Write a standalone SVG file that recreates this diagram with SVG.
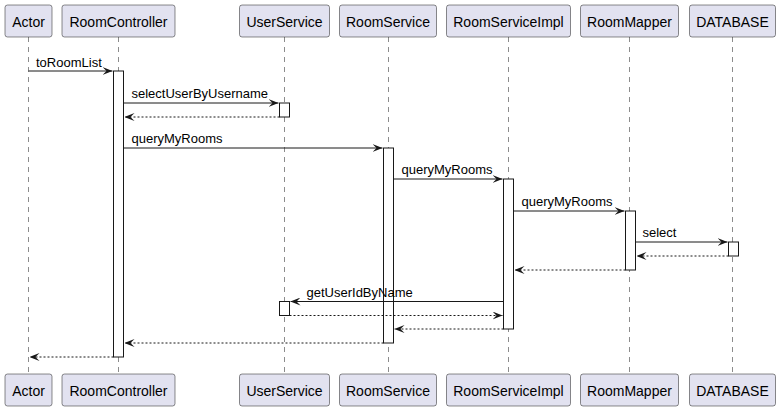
<svg xmlns="http://www.w3.org/2000/svg" width="781" height="412" viewBox="0 0 781 412">
<defs>
<style>
.box{fill:#E2E2F0;stroke:#181818;stroke-width:0.5}
.life{stroke:#181818;stroke-width:0.5;stroke-dasharray:5,5;fill:none}
.act{fill:#FFFFFF;stroke:#181818;stroke-width:1}
.pn{font-family:"Liberation Sans",Arial,sans-serif;font-size:14px;fill:#000;text-anchor:middle}
.msg{stroke:#181818;stroke-width:1;fill:none;marker-end:url(#ah)}
.ret{stroke:#181818;stroke-width:1;fill:none;stroke-dasharray:2,2;marker-end:url(#ah)}
.ml{font-family:"Liberation Sans",Arial,sans-serif;font-size:13px;fill:#000}
</style>
<marker id="ah" viewBox="0 0 10 8" refX="10" refY="4" markerWidth="10" markerHeight="8" markerUnits="userSpaceOnUse" orient="auto">
<path d="M0,0 L10,4 L0,8 L4,4 Z" fill="#181818"/>
</marker>
</defs>
<rect width="781" height="412" fill="#FFFFFF"/>

<g id="actor">
<line class="life" x1="28.5" y1="37" x2="28.5" y2="374"/>
<rect class="box" x="5" y="5" width="47" height="32" rx="2.5"/>
<text class="pn" x="28.5" y="26.5">Actor</text>
<rect class="box" x="5" y="374" width="47" height="32" rx="2.5"/>
<text class="pn" x="28.5" y="395.5">Actor</text>
</g>

<g id="roomcontroller">
<line class="life" x1="118.5" y1="37" x2="118.5" y2="374"/>
<rect class="box" x="62" y="5" width="113" height="32" rx="2.5"/>
<text class="pn" x="118.5" y="26.5">RoomController</text>
<rect class="box" x="62" y="374" width="113" height="32" rx="2.5"/>
<text class="pn" x="118.5" y="395.5">RoomController</text>
<rect class="act" x="113.5" y="71" width="10" height="286"/>
</g>

<g id="userservice">
<line class="life" x1="284.5" y1="37" x2="284.5" y2="374"/>
<rect class="box" x="239.5" y="5" width="90" height="32" rx="2.5"/>
<text class="pn" x="284.5" y="26.5">UserService</text>
<rect class="box" x="239.5" y="374" width="90" height="32" rx="2.5"/>
<text class="pn" x="284.5" y="395.5">UserService</text>
<rect class="act" x="279.5" y="103" width="10" height="14"/>
<rect class="act" x="279.5" y="301.5" width="10" height="14"/>
</g>

<g id="roomservice">
<line class="life" x1="388.5" y1="37" x2="388.5" y2="374"/>
<rect class="box" x="339.5" y="5" width="97" height="32" rx="2.5"/>
<text class="pn" x="388" y="26.5">RoomService</text>
<rect class="box" x="339.5" y="374" width="97" height="32" rx="2.5"/>
<text class="pn" x="388" y="395.5">RoomService</text>
<rect class="act" x="383.5" y="148" width="10" height="195"/>
</g>

<g id="roomserviceimpl">
<line class="life" x1="508.5" y1="37" x2="508.5" y2="374"/>
<rect class="box" x="446.5" y="5" width="124" height="32" rx="2.5"/>
<text class="pn" x="508.5" y="26.5">RoomServiceImpl</text>
<rect class="box" x="446.5" y="374" width="124" height="32" rx="2.5"/>
<text class="pn" x="508.5" y="395.5">RoomServiceImpl</text>
<rect class="act" x="503.5" y="179" width="10" height="150"/>
</g>

<g id="roommapper">
<line class="life" x1="629.5" y1="37" x2="629.5" y2="374"/>
<rect class="box" x="580.5" y="5" width="98" height="32" rx="2.5"/>
<text class="pn" x="629.5" y="26.5">RoomMapper</text>
<rect class="box" x="580.5" y="374" width="98" height="32" rx="2.5"/>
<text class="pn" x="629.5" y="395.5">RoomMapper</text>
<rect class="act" x="625.5" y="211" width="10" height="59"/>
</g>

<g id="database">
<line class="life" x1="732.5" y1="37" x2="732.5" y2="374"/>
<rect class="box" x="689.5" y="5" width="86" height="32" rx="2.5"/>
<text class="pn" x="732.5" y="26.5">DATABASE</text>
<rect class="box" x="689.5" y="374" width="86" height="32" rx="2.5"/>
<text class="pn" x="732.5" y="395.5">DATABASE</text>
<rect class="act" x="728.5" y="242" width="10" height="14"/>
</g>

<g id="connectors">
<line class="msg" x1="28.5" y1="71" x2="112.5" y2="71"/>
<text class="ml" x="36" y="67">toRoomList</text>

<line class="msg" x1="123.5" y1="103" x2="278.5" y2="103"/>
<text class="ml" x="131.5" y="98">selectUserByUsername</text>

<line class="ret" x1="279.5" y1="117" x2="124.5" y2="117"/>

<line class="msg" x1="123.5" y1="148" x2="382.5" y2="148"/>
<text class="ml" x="131.5" y="143">queryMyRooms</text>

<line class="msg" x1="393.5" y1="179" x2="502.5" y2="179"/>
<text class="ml" x="401.5" y="174">queryMyRooms</text>

<line class="msg" x1="513.5" y1="211" x2="624.5" y2="211"/>
<text class="ml" x="521.5" y="206">queryMyRooms</text>

<line class="msg" x1="635.5" y1="242" x2="727.5" y2="242"/>
<text class="ml" x="642.5" y="237">select</text>

<line class="ret" x1="728.5" y1="256" x2="636.5" y2="256"/>

<line class="ret" x1="625.5" y1="270" x2="514.5" y2="270"/>

<line class="msg" x1="503.5" y1="301.5" x2="290.5" y2="301.5"/>
<text class="ml" x="306.5" y="296.5">getUserIdByName</text>

<line class="ret" x1="289.5" y1="315.5" x2="502.5" y2="315.5"/>

<line class="ret" x1="503.5" y1="329" x2="394.5" y2="329"/>

<line class="ret" x1="383.5" y1="343" x2="124.5" y2="343"/>

<line class="ret" x1="113.5" y1="357" x2="29.5" y2="357"/>
</g>
</svg>
